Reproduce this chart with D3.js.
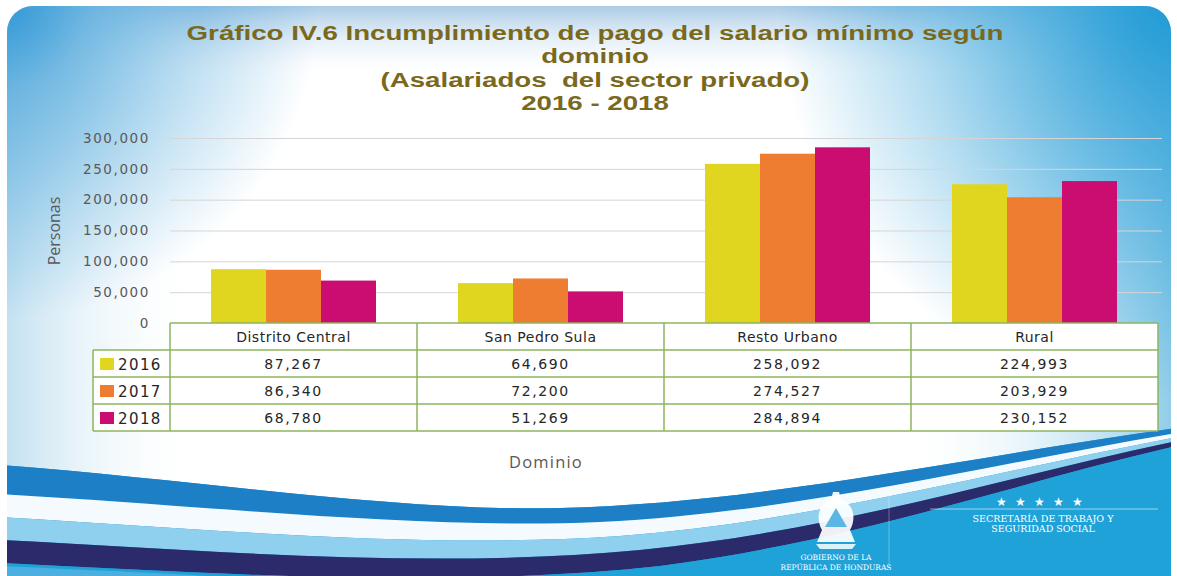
<!DOCTYPE html>
<html>
<head>
<meta charset="utf-8">
<script src="https://cdn.jsdelivr.net/npm/d3@7"></script>
<style>
  html, body { margin: 0; padding: 0; background: #fff; }
  svg { display: block; }
</style>
</head>
<body>
<svg id="chart" width="1177" height="576"></svg>
<script>
"use strict";

// Data.
var dominios = ['Distrito Central', 'San Pedro Sula', 'Resto Urbano', 'Rural'];
var years = ['2016', '2017', '2018'];
var values_2016 = [87267, 64690, 258092, 224993];
var values_2017 = [86340, 72200, 274527, 203929];
var values_2018 = [68780, 51269, 284894, 230152];
var y_ticks = [0, 50000, 100000, 150000, 200000, 250000, 300000];
var title_lines = [
  'Gráfico IV.6 Incumplimiento de pago del salario mínimo según',
  'dominio',
  '(Asalariados  del sector privado)',
  '2016 - 2018'
];

var series = [values_2016, values_2017, values_2018];
var year_colours = ['#e0d620', '#ee7d31', '#cb0d72'];
var fmt = d3.format(',');

var W = 1177, H = 576;
var plot = { left: 170, right: 1158, top: 138, bottom: 323 };
var table = { legend_left: 93, row_h: 27 };

var svg = d3.select('#chart');
var defs = svg.append('defs');

function add_radial(id, cx, cy, r, colour, stops) {
  var g = defs.append('radialGradient').attr('id', id)
    .attr('gradientUnits', 'userSpaceOnUse')
    .attr('cx', cx).attr('cy', cy).attr('r', r);
  stops.forEach(function(s) {
    g.append('stop').attr('offset', s[0]).attr('stop-color', colour).attr('stop-opacity', s[1]);
  });
}

function add_linear(id, x1, y1, x2, y2, stops) {
  var g = defs.append('linearGradient').attr('id', id)
    .attr('gradientUnits', 'userSpaceOnUse')
    .attr('x1', x1).attr('y1', y1).attr('x2', x2).attr('y2', y2);
  stops.forEach(function(s) {
    g.append('stop').attr('offset', s[0]).attr('stop-color', s[1]).attr('stop-opacity', s[2]);
  });
}

add_radial('tl-grad', 0, 0, 320, '#2e97d5', [[0, 1], [0.28, 0.6], [1, 0]]);
add_radial('tr-grad', 1177, 0, 400, '#1f9ad6', [[0, 1], [0.28, 0.7], [1, 0]]);
add_linear('top-grad', 0, 6, 0, 80, [[0, '#aacbe6', 1], [1, '#ffffff', 0]]);
add_linear('left-grad', 0, 0, 200, 0, [[0, '#bfdff0', 1], [1, '#ffffff', 0]]);
add_linear('right-grad', 900, 0, 1177, 0, [[0, '#ffffff', 0], [1, '#8ccbe8', 1]]);
add_linear('base-grad', 0, 0, 1177, 0, [[0, '#2389cd', 1], [0.5, '#1f98d6', 1], [1, '#23a8dc', 1]]);

defs.append('clipPath').attr('id', 'card-clip')
  .append('rect').attr('x', 7).attr('y', 6).attr('width', 1164).attr('height', 600).attr('rx', 26);

// Card background: white centre, blue corners and edges.
var card = svg.append('g').attr('clip-path', 'url(#card-clip)');
card.append('rect').attr('width', W).attr('height', H).attr('fill', '#ffffff');
['top-grad', 'left-grad', 'right-grad', 'tl-grad', 'tr-grad'].forEach(function(id) {
  card.append('rect').attr('width', W).attr('height', H).attr('fill', 'url(#' + id + ')');
});

// Bottom swoosh: bands between cubic curves that converge to the right.
var curves = [
  [[0, 465], [200, 480], [400, 512], [560, 508], [760, 503], [950, 460], [1177, 428]],
  [[0, 494], [200, 505], [420, 530], [600, 522], [800, 512], [980, 466], [1177, 433]],
  [[0, 517], [200, 528], [420, 550], [620, 536], [820, 520], [990, 472], [1177, 437]],
  [[0, 540], [200, 550], [430, 570], [640, 550], [840, 530], [1000, 478], [1177, 441]],
  [[0, 563], [200, 572], [440, 590], [660, 566], [860, 540], [1010, 484], [1177, 446]]
];
var band_colours = ['#1d80c7', '#f4fafd', '#8fd0ee', '#2b2a6a'];

function forward(c) {
  return 'M' + c[0] + ' C' + c[1] + ' ' + c[2] + ' ' + c[3] + ' C' + c[4] + ' ' + c[5] + ' ' + c[6];
}
function backward(c) {
  return ' L' + c[6] + ' C' + c[5] + ' ' + c[4] + ' ' + c[3] + ' C' + c[2] + ' ' + c[1] + ' ' + c[0];
}

function draw_swoosh(g) {
  g.append('path').attr('d', forward(curves[0]) + ' L1177,576 L0,576 Z').attr('fill', 'url(#base-grad)');
  band_colours.forEach(function(col, i) {
    g.append('path').attr('d', forward(curves[i]) + backward(curves[i + 1]) + ' Z').attr('fill', col);
  });
  g.append('path').attr('d', forward(curves[4]) + ' L1177,576 L0,576 Z').attr('fill', '#1fa2d8');
  g.append('path')
    .attr('d', 'M0,566 C200,575 300,580 420,590 L0,590 Z')
    .attr('fill', '#4bb0e0');
}
draw_swoosh(card);

// Logos at the bottom right.
function draw_logos(g) {
  var emblem = g.append('g').attr('transform', 'translate(836,522)');
  emblem.append('path')
    .attr('d', 'M-3,-30 L3,-30 L5,-22 C17,-19 21,-4 14,8 L19,20 L-19,20 L-14,8 C-21,-4 -17,-19 -5,-22 Z')
    .attr('fill', '#ffffff').attr('opacity', 0.93);
  emblem.append('path').attr('d', 'M0,-14 L11,5 L-11,5 Z').attr('fill', '#5ab7e3');
  emblem.append('path').attr('d', 'M-20,22 L20,22 L16,27 L-16,27 Z').attr('fill', '#ffffff').attr('opacity', 0.85);
  g.append('text').attr('x', 836).attr('y', 560).attr('text-anchor', 'middle')
    .attr('font-family', 'DejaVu Serif').attr('font-size', 7.5).attr('fill', '#ffffff')
    .text('GOBIERNO DE LA');
  g.append('text').attr('x', 836).attr('y', 570).attr('text-anchor', 'middle')
    .attr('font-family', 'DejaVu Serif').attr('font-size', 7.5).attr('fill', '#ffffff')
    .text('REPÚBLICA DE HONDURAS');
  g.append('line').attr('x1', 889).attr('x2', 889).attr('y1', 496).attr('y2', 568)
    .attr('stroke', '#ffffff').attr('stroke-opacity', 0.3);
  g.append('text').attr('x', 1043).attr('y', 506).attr('text-anchor', 'middle')
    .attr('font-size', 12).attr('fill', '#ffffff').attr('letter-spacing', 8)
    .text('★★★★★');
  g.append('line').attr('x1', 930).attr('x2', 1158).attr('y1', 509).attr('y2', 509)
    .attr('stroke', '#ffffff').attr('stroke-opacity', 0.55);
  g.append('text').attr('x', 1043).attr('y', 522).attr('text-anchor', 'middle')
    .attr('font-family', 'DejaVu Serif').attr('font-size', 9.5).attr('fill', '#ffffff')
    .text('SECRETARÍA DE TRABAJO Y');
  g.append('text').attr('x', 1043).attr('y', 532).attr('text-anchor', 'middle')
    .attr('font-family', 'DejaVu Serif').attr('font-size', 9.5).attr('fill', '#ffffff')
    .text('SEGURIDAD SOCIAL');
}
draw_logos(card);

// Title.
var title = svg.append('g').attr('transform', 'translate(595,0) scale(1.35,1)');
title.selectAll('text').data(title_lines).enter().append('text')
  .attr('x', 0)
  .attr('y', function(d, i) { return 40 + i * 23.4; })
  .attr('text-anchor', 'middle')
  .attr('font-family', 'Liberation Sans, Arial, sans-serif')
  .attr('font-weight', 'bold')
  .attr('font-size', 20.5)
  .attr('fill', '#7a691c')
  .style('white-space', 'pre')
  .text(function(d) { return d; });

// Scales.
var x0 = d3.scaleBand().domain(dominios).range([plot.left, plot.right]);
var bw = x0.bandwidth();
var x1 = d3.scaleBand().domain(years).range([bw * 0.166, bw * 0.834]);
var y = d3.scaleLinear().domain([0, 300000]).range([plot.bottom, plot.top]);

// Gridlines and y axis labels.
var y_axis = d3.axisLeft(y).tickValues(y_ticks).tickFormat(fmt).tickSize(0).tickPadding(0);
var ya = svg.append('g').attr('transform', 'translate(150,0)').call(y_axis);
ya.select('.domain').remove();
ya.selectAll('text')
  .attr('font-family', 'DejaVu Sans, sans-serif')
  .attr('font-size', 13.5)
  .attr('letter-spacing', 1.6)
  .attr('fill', '#595959');

svg.append('g').selectAll('line').data(y_ticks.slice(1)).enter().append('line')
  .attr('x1', plot.left).attr('x2', 1162)
  .attr('y1', function(d) { return y(d) + 0.5; })
  .attr('y2', function(d) { return y(d) + 0.5; })
  .attr('stroke', '#d5d5d5').attr('stroke-width', 1);

svg.append('text')
  .attr('transform', 'translate(60,231) rotate(-90)')
  .attr('text-anchor', 'middle')
  .attr('font-family', 'Open Sans, sans-serif')
  .attr('font-size', 16)
  .attr('fill', '#595959')
  .text('Personas');

// Bars.
var groups = svg.append('g').selectAll('g').data(dominios).enter().append('g')
  .attr('transform', function(d) { return 'translate(' + x0(d) + ',0)'; });
groups.selectAll('rect')
  .data(function(d, i) {
    return years.map(function(yr, j) { return { year: yr, value: series[j][i], colour: year_colours[j] }; });
  })
  .enter().append('rect')
  .attr('x', function(d) { return x1(d.year); })
  .attr('width', x1.bandwidth())
  .attr('y', function(d) { return y(d.value); })
  .attr('height', function(d) { return plot.bottom - y(d.value); })
  .attr('fill', function(d) { return d.colour; });

// Data table under the plot.
var border = '#8db55c';
var tbl = svg.append('g');
var header_top = plot.bottom;
var rows_top = header_top + table.row_h;
var table_bottom = rows_top + years.length * table.row_h;

tbl.append('rect').attr('x', plot.left).attr('y', header_top)
  .attr('width', plot.right - plot.left).attr('height', table.row_h).attr('fill', '#ffffff');
tbl.append('rect').attr('x', table.legend_left).attr('y', rows_top)
  .attr('width', plot.right - table.legend_left).attr('height', years.length * table.row_h)
  .attr('fill', '#ffffff');

var cell_font = 'DejaVu Sans, sans-serif';
tbl.selectAll('.head').data(dominios).enter().append('text')
  .attr('class', 'head')
  .attr('x', function(d) { return x0(d) + bw / 2; })
  .attr('y', header_top + 19)
  .attr('text-anchor', 'middle')
  .attr('font-family', cell_font).attr('font-size', 14).attr('letter-spacing', 0.5)
  .attr('fill', '#262626')
  .text(function(d) { return d; });

years.forEach(function(yr, j) {
  var row_y = rows_top + j * table.row_h;
  tbl.append('rect').attr('x', 100).attr('y', row_y + 8).attr('width', 14).attr('height', 12)
    .attr('fill', year_colours[j]);
  tbl.append('text').attr('x', 118).attr('y', row_y + 20)
    .attr('font-family', cell_font).attr('font-size', 15).attr('letter-spacing', 1.4)
    .attr('fill', '#262626').text(yr);
  tbl.selectAll('.v' + yr).data(series[j]).enter().append('text')
    .attr('x', function(d, i) { return x0(dominios[i]) + bw / 2; })
    .attr('y', row_y + 19)
    .attr('text-anchor', 'middle')
    .attr('font-family', cell_font).attr('font-size', 14).attr('letter-spacing', 1.6)
    .attr('fill', '#262626')
    .text(function(d) { return fmt(d); });
});

// Table grid lines.
var h_lines = [
  [plot.left, header_top], [table.legend_left, rows_top],
  [table.legend_left, rows_top + table.row_h], [table.legend_left, rows_top + 2 * table.row_h],
  [table.legend_left, table_bottom]
];
tbl.selectAll('.hl').data(h_lines).enter().append('line')
  .attr('x1', function(d) { return d[0]; }).attr('x2', plot.right)
  .attr('y1', function(d) { return d[1]; }).attr('y2', function(d) { return d[1]; })
  .attr('stroke', border).attr('stroke-width', 1.5);
var v_lines = [plot.left].concat(dominios.map(function(d) { return x0(d) + bw; }));
tbl.selectAll('.vl').data(v_lines).enter().append('line')
  .attr('x1', function(d) { return d; }).attr('x2', function(d) { return d; })
  .attr('y1', header_top).attr('y2', table_bottom)
  .attr('stroke', border).attr('stroke-width', 1.5);
tbl.append('line').attr('x1', table.legend_left).attr('x2', table.legend_left)
  .attr('y1', rows_top).attr('y2', table_bottom)
  .attr('stroke', border).attr('stroke-width', 1.5);

// X axis title.
svg.append('text')
  .attr('x', 546).attr('y', 468)
  .attr('text-anchor', 'middle')
  .attr('font-family', 'Open Sans, sans-serif')
  .attr('font-size', 16.5).attr('letter-spacing', 1.2)
  .attr('fill', '#595959')
  .text('Dominio');
</script>
</body>
</html>
